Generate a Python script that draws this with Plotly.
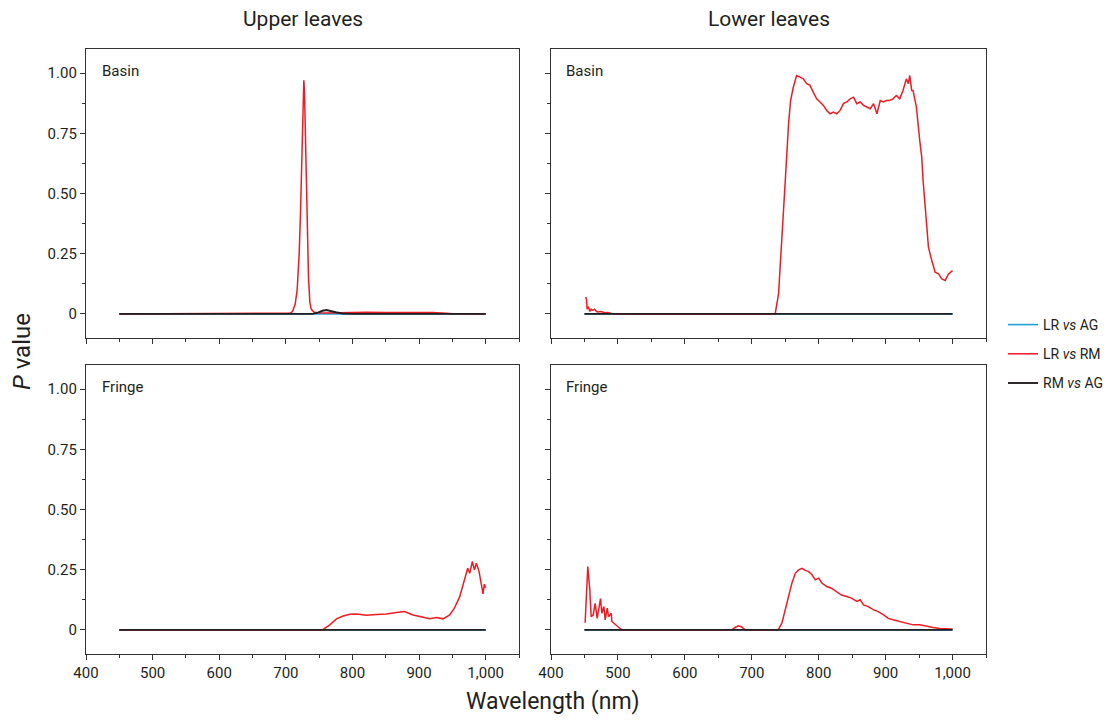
import plotly.graph_objects as go

# ---------------- data ----------------
# Upper leaves, Basin
ub_red_wl = [450, 600, 700, 706, 710, 714, 717, 720, 722, 724, 726, 727, 728, 730, 732, 734, 736, 738, 742, 750,
             760, 780, 800, 820, 850, 880, 900, 920, 935, 950, 1000]
ub_red_p = [0, 0, 0, 0.003, 0.01, 0.04, 0.1, 0.25, 0.42, 0.7, 0.93, 0.97, 0.92, 0.65, 0.35, 0.15, 0.05, 0.02,
            0.008, 0.004, 0.004, 0.006, 0.006, 0.007, 0.006, 0.007, 0.006, 0.006, 0.004, 0.001, 0]
ub_blk_wl = [450, 740, 748, 755, 761, 768, 775, 785, 800, 1000]
ub_blk_p = [0, 0, 0.005, 0.013, 0.016, 0.013, 0.007, 0.002, 0, 0]
ub_blu_wl = [450, 1000]
ub_blu_p = [0, 0]

# Lower leaves, Basin
lb_red_wl = [452, 453, 454, 456, 458, 460, 462, 465, 468, 470, 475, 480, 485, 490, 500, 600, 700, 735,
             740, 745, 750, 755, 758, 762, 767, 772, 777, 782, 787, 792, 797, 802, 807, 812, 817, 822, 827,
             832, 837, 842, 847, 852, 857, 862, 867, 872, 877, 882, 887, 892, 897, 901, 906, 911, 916, 921,
             926, 931, 934, 936, 939, 941, 946, 951, 954, 956, 961, 964, 969, 974, 979, 984, 989, 994, 1000]
lb_red_p = [0.07, 0.06, 0.02, 0.03, 0.01, 0.02, 0.015, 0.02, 0.01, 0.008, 0.01, 0.005, 0.006, 0.002, 0, 0, 0, 0,
            0.083, 0.30, 0.55, 0.79, 0.886, 0.94, 0.99, 0.983, 0.976, 0.956, 0.949, 0.92, 0.893, 0.88, 0.866,
            0.845, 0.831, 0.838, 0.831, 0.845, 0.873, 0.88, 0.893, 0.90, 0.873, 0.88, 0.866, 0.859, 0.852,
            0.873, 0.831, 0.886, 0.88, 0.886, 0.886, 0.893, 0.907, 0.893, 0.928, 0.976, 0.956, 0.99, 0.928,
            0.928, 0.859, 0.72, 0.65, 0.554, 0.388, 0.277, 0.222, 0.173, 0.166, 0.145, 0.139, 0.166, 0.18]
lb_blk_wl = [450, 1000]
lb_blk_p = [0, 0]
lb_blu_wl = [450, 1000]
lb_blu_p = [0, 0]

# Upper leaves, Fringe
uf_red_wl = [450, 600, 755, 766, 776, 786, 796, 806, 821, 836, 851, 866, 878, 891, 906, 916, 926, 936,
             946, 953, 961, 968, 973, 976, 980, 983, 986, 990, 993, 996, 998, 1000]
uf_red_p = [0, 0, 0, 0.021, 0.046, 0.058, 0.065, 0.066, 0.061, 0.064, 0.066, 0.072, 0.076, 0.062, 0.051,
            0.046, 0.051, 0.046, 0.062, 0.09, 0.138, 0.208, 0.256, 0.235, 0.284, 0.249, 0.277, 0.243, 0.2,
            0.15, 0.19, 0.175]
uf_blk_wl = [450, 1000]
uf_blk_p = [0, 0]
uf_blu_wl = [450, 1000]
uf_blu_p = [0, 0]

# Lower leaves, Fringe
lf_red_wl = [451, 455, 458, 460, 463, 466, 469, 471, 474, 476, 479, 481, 484, 486, 490, 491, 496, 501, 506,
             600, 670, 675, 680, 685, 690, 738, 740, 745, 750, 755, 760, 765, 770, 775, 780, 785, 790, 795,
             800, 805, 812, 819, 827, 834, 842, 849, 857, 862, 867, 874, 882, 889, 897, 904, 911, 921, 931,
             941, 951, 961, 971, 981, 1000]
lf_red_p = [0.03, 0.263, 0.166, 0.055, 0.062, 0.11, 0.048, 0.083, 0.13, 0.069, 0.097, 0.042, 0.09, 0.055,
            0.069, 0.035, 0.021, 0.011, 0, 0, 0, 0.01, 0.017, 0.012, 0, 0, 0.003, 0.028, 0.083, 0.139, 0.194,
            0.235, 0.249, 0.256, 0.247, 0.242, 0.229, 0.208, 0.215, 0.194, 0.18, 0.173, 0.159, 0.145, 0.139,
            0.132, 0.118, 0.125, 0.104, 0.097, 0.083, 0.076, 0.062, 0.048, 0.042, 0.035, 0.028, 0.021, 0.021,
            0.014, 0.01, 0.006, 0.004]
lf_blk_wl = [450, 1000]
lf_blk_p = [0, 0]
lf_blu_wl = [450, 1000]
lf_blu_p = [0, 0]

series_names = ["LR <i>vs</i> AG", "LR <i>vs</i> RM", "RM <i>vs</i> AG"]
series_colors = ["#1f9fdc", "#ed1c24", "#231f20"]
column_titles = ["Upper leaves", "Lower leaves"]
row_labels = ["Basin", "Fringe"]
x_tickvals = [400, 500, 600, 700, 800, 900, 1000]
x_ticktext = ["400", "500", "600", "700", "800", "900", "1,000"]
y_tickvals = [0, 0.25, 0.5, 0.75, 1.0]
y_ticktext = ["0", "0.25", "0.50", "0.75", "1.00"]

# panels: (row, col) -> (blue, red, black)
panels = {
    (1, 1): ((ub_blu_wl, ub_blu_p), (ub_red_wl, ub_red_p), (ub_blk_wl, ub_blk_p)),
    (1, 2): ((lb_blu_wl, lb_blu_p), (lb_red_wl, lb_red_p), (lb_blk_wl, lb_blk_p)),
    (2, 1): ((uf_blu_wl, uf_blu_p), (uf_red_wl, uf_red_p), (uf_blk_wl, uf_blk_p)),
    (2, 2): ((lf_blu_wl, lf_blu_p), (lf_red_wl, lf_red_p), (lf_blk_wl, lf_blk_p)),
}

FONT = "Roboto, Liberation Sans, Arial, sans-serif"
TXT = "#231f20"

fig = go.Figure()

# the page body has an 8 px margin on every side: size the figure so it fits the window
OFF = 8
W, H = 1112 - 2 * OFF, 725 - 2 * OFF
ml = 86 - OFF
mt = 49 - OFF
mr = W - (986 - OFF)
mb = H - (654 - OFF)
pw = W - ml - mr
ph = H - mt - mb
xdom = {1: [0, 433 / pw], 2: [(551 - 86) / pw, 1]}
ydom = {1: [1 - 289 / ph, 1], 2: [0, 289 / ph]}

axis_idx = {(1, 1): 1, (1, 2): 2, (2, 1): 3, (2, 2): 4}
widths = [1.6, 1.5, 1.9]

for (r, c), trio in panels.items():
    k = axis_idx[(r, c)]
    xa = "x" if k == 1 else f"x{k}"
    ya = "y" if k == 1 else f"y{k}"
    for s, (wl, p) in enumerate(trio):
        fig.add_trace(go.Scatter(
            x=wl, y=p, mode="lines", xaxis=xa, yaxis=ya,
            line=dict(color=series_colors[s], width=widths[s]),
            name=series_names[s], legendgroup=f"g{s}",
            showlegend=(k == 1), hoverinfo="skip"))

layout = dict(
    width=W, height=H, margin=dict(l=ml, r=mr, t=mt, b=mb, autoexpand=False),
    paper_bgcolor="white", plot_bgcolor="white",
    font=dict(family=FONT, color=TXT, size=15),
    showlegend=True,
    legend=dict(x=(1003 - 86) / pw, y=(654 - 309) / ph, xanchor="left", yanchor="top",
                font=dict(size=14, family=FONT, color=TXT), traceorder="grouped",
                tracegroupgap=8, itemwidth=30, bgcolor="rgba(0,0,0,0)"),
)

for (r, c), k in axis_idx.items():
    xkey = "xaxis" if k == 1 else f"xaxis{k}"
    ykey = "yaxis" if k == 1 else f"yaxis{k}"
    ya = "y" if k == 1 else f"y{k}"
    xa = "x" if k == 1 else f"x{k}"
    layout[xkey] = dict(
        domain=xdom[c], anchor=ya, range=[400, 1050],
        tickvals=x_tickvals, ticktext=x_ticktext, showticklabels=(r == 2),
        ticks="outside", ticklen=5, tickwidth=1.1, tickcolor="#333",
        minor=dict(dtick=50, tick0=0, ticks="outside", ticklen=3, tickwidth=1, tickcolor="#333"),
        showline=True, linecolor="#333", linewidth=1.3, mirror=True,
        showgrid=False, zeroline=False, tickfont=dict(size=15, family=FONT, color=TXT),
    )
    layout[ykey] = dict(
        domain=ydom[r], anchor=xa, range=[-0.1, 1.1],
        tickvals=y_tickvals, ticktext=y_ticktext, showticklabels=(c == 1),
        ticks="outside", ticklen=5, tickwidth=1.1, tickcolor="#333",
        minor=dict(dtick=0.125, tick0=0, ticks="outside", ticklen=3, tickwidth=1, tickcolor="#333"),
        showline=True, linecolor="#333", linewidth=1.3, mirror=True,
        showgrid=False, zeroline=False, tickfont=dict(size=15, family=FONT, color=TXT),
    )

fig.update_layout(**layout)

ann = []
for c, t in zip([1, 2], column_titles):
    ann.append(dict(text=t, xref="x domain" if c == 1 else "x2 domain", yref="paper",
                    x=0.5, y=1, yshift=30, xanchor="center", yanchor="middle", showarrow=False,
                    font=dict(size=21, family=FONT, color=TXT)))
for (r, c), k in axis_idx.items():
    xa = "x" if k == 1 else f"x{k}"
    ya = "y" if k == 1 else f"y{k}"
    ann.append(dict(text=row_labels[r - 1], xref=f"{xa} domain", yref=f"{ya} domain",
                    x=0.033 if c == 1 else 0.03, y=0.925, xanchor="left", yanchor="middle",
                    showarrow=False, font=dict(size=15, family=FONT, color=TXT)))
ann.append(dict(text="Wavelength (nm)", xref="paper", yref="paper", x=(553 - 86) / pw, y=0,
                yshift=-47, xanchor="center", yanchor="middle", showarrow=False,
                font=dict(size=23, family=FONT, color=TXT)))
ann.append(dict(text="<i>P</i> value", xref="paper", yref="paper", x=0, xshift=-64,
                y=(654 - 352) / ph, xanchor="center", yanchor="middle", textangle=-90,
                showarrow=False, font=dict(size=24, family=FONT, color=TXT)))
fig.update_layout(annotations=ann)

fig.write_html("out.html")
